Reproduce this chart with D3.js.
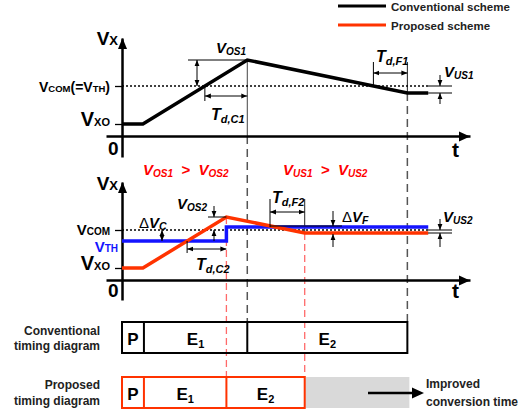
<!DOCTYPE html>
<html><head><meta charset="utf-8">
<script src="https://cdn.jsdelivr.net/npm/d3@7"></script>
<style>
body{margin:0;background:#fff}
svg{display:block}
text{font-family:"Liberation Sans",Arial,sans-serif;font-weight:bold;white-space:pre}
</style>
</head><body>
<svg id="c" width="521" height="416"></svg>
<script>
// ---------- data ----------
const convTime = [0, 0.6, 3.6, 8.2, 8.8];
const convV    = [1.2, 1.2, 7.6, 4.3, 4.3];
const propTime = [0, 0.6, 3.0, 5.25, 8.8];
const propV    = [1.2, 1.2, 6.3, 4.7, 4.7];
const thTime   = [0, 3.0, 3.0, 8.8];
const thV      = [3.9, 3.9, 5.3, 5.3];
const vCom = 5.0, vXo = 1.2, vTh = 3.9;
const convPhases = ["P", "E1", "E2"];
const convBounds = [0, 0.63, 3.6, 8.2];
const propPhases = ["P", "E1", "E2"];
const propBounds = [0, 0.63, 3.0, 5.25];
const legendLabels = ["Conventional scheme", "Proposed scheme"];

// ---------- setup ----------
const svg = d3.select("#c");
const RED = "#ff3300", BLUE = "#1414ff";
const x  = d3.scaleLinear().domain([-0.46, 10]).range([106, 470]);
const yT = d3.scaleLinear().domain([-2.1, 9.8]).range([157, 38]);
const yB = d3.scaleLinear().domain([-2, 9.8]).range([300, 182]);

const defs = svg.append("defs");
defs.append("marker").attr("id","ah").attr("viewBox","0 0 10 10")
  .attr("refX",10).attr("refY",5).attr("markerWidth",6).attr("markerHeight",6)
  .attr("markerUnits","userSpaceOnUse").attr("orient","auto-start-reverse")
  .append("path").attr("d","M0,1L10,5L0,9Z").attr("fill","#000");

function line(x1,y1,x2,y2,o={}){
  const l = svg.append("line").attr("x1",x1).attr("y1",y1).attr("x2",x2).attr("y2",y2)
    .attr("stroke",o.stroke||"#000").attr("stroke-width",o.w||1);
  if(o.dash) l.attr("stroke-dasharray",o.dash);
  if(o.end) l.attr("marker-end","url(#ah)");
  if(o.start) l.attr("marker-start","url(#ah)");
  return l;
}
function rt(xx,yy,parts,o={}){
  const t = svg.append("text").attr("x",xx).attr("y",yy)
    .attr("text-anchor",o.anchor||"start").attr("fill",o.fill||"#000");
  if(o.italic) t.attr("font-style","italic");
  let shift = 0;
  parts.forEach(p=>{
    const [s,size,dy=0,extra] = p;
    const ts = t.append("tspan").text(s).attr("font-size",size);
    const d = dy - shift; if(d) ts.attr("dy",d); shift = dy;
    if(extra) for(const k in extra) ts.attr(k,extra[k]);
  });
  return t;
}
const pts = (ts,vs)=>ts.map((t,i)=>[t,vs[i]]);

// ---------- dashed guide lines ----------
line(x(convTime[2]), yT(convV[2]), x(convTime[2]), yT(0), {stroke:"#444", w:1});
line(x(convTime[2]), yT(0), x(convTime[2]), 322, {stroke:"#555", w:1.5, dash:"8,5"});
line(x(convTime[3]), yT(convV[3]), x(convTime[3]), 322, {stroke:"#555", w:1.5, dash:"8,5"});
line(x(convTime[3]), 62, x(convTime[3]), yT(convV[3]), {stroke:"#222", w:1});
line(x(propTime[2]), yB(propV[2]), x(propTime[2]), 377, {stroke:"#ff6a6a", w:1.3, dash:"7,4"});
line(x(propTime[3]), yB(propV[3]), x(propTime[3]), 377, {stroke:"#ff6a6a", w:1.3, dash:"7,4"});
line(x(propTime[3]), 199, x(propTime[3]), yB(propV[3]), {stroke:"#222", w:1});

// dotted VCOM lines
line(x(0), yT(vCom), x(8.8), yT(vCom), {w:1.3, dash:"2,2"});
line(x(0), yB(vCom), x(8.8), yB(vCom), {w:1.3, dash:"2,2"});

// ---------- axes ----------
function axes(y, ticks){
  const gx = svg.append("g").attr("transform",`translate(0,${y(0)})`)
    .call(d3.axisBottom(x).tickValues([]).tickSizeOuter(0));
  gx.select(".domain").attr("stroke-width",2.5);
  const gy = svg.append("g").attr("transform",`translate(${x(0)},0)`)
    .call(d3.axisLeft(y).tickValues(ticks).tickSize(7).tickFormat("").tickSizeOuter(0));
  gy.select(".domain").attr("stroke-width",2.5);
  gy.selectAll(".tick line").attr("stroke-width",1.3);
  const xe = x(10), ye = y(0)+0.5;
  svg.append("path").attr("d",`M${xe},${ye}L${xe-11},${ye-5}L${xe-11},${ye+5}Z`);
  const yt = y(9.8), xa = x(0)+0.5;
  svg.append("path").attr("d",`M${xa},${yt}L${xa-4.5},${yt+11}L${xa+4.5},${yt+11}Z`);
}
axes(yT, [vCom, vXo]);
axes(yB, [vCom, vXo]);

// ---------- series ----------
const lT = d3.line().x(d=>x(d[0])).y(d=>yT(d[1]));
const lB = d3.line().x(d=>x(d[0])).y(d=>yB(d[1]));
svg.append("path").attr("d",lT(pts(convTime,convV))).attr("fill","none")
  .attr("stroke","#000").attr("stroke-width",3.5);
svg.append("path").attr("d",lB(pts(thTime,thV))).attr("fill","none")
  .attr("stroke",BLUE).attr("stroke-width",3.5);
svg.append("path").attr("d",lB(pts(propTime,propV))).attr("fill","none")
  .attr("stroke",RED).attr("stroke-width",3.5);

// ---------- annotations top ----------
const pk = [x(convTime[2]), yT(convV[2])];
line(188, pk[1], pk[0], pk[1], {w:1});
line(197, pk[1], 197, yT(vCom), {w:1, start:true, end:true});
const tC1 = convTime[1] + (convTime[2]-convTime[1])*(vCom-convV[1])/(convV[2]-convV[1]);
line(x(tC1), yT(vCom), x(tC1), 101, {w:1});
line(x(tC1), 96, pk[0], 96, {w:1, start:true, end:true});
const tF1 = convTime[2] + (convTime[3]-convTime[2])*(convV[2]-vCom)/(convV[2]-convV[3]);
line(x(tF1), 62, x(tF1), yT(vCom), {w:1});
line(x(tF1), 73, x(convTime[3]), 73, {w:1, start:true, end:true});
line(428, yT(vCom), 452, yT(vCom), {stroke:"#555", w:1.5});
line(428, yT(convV[3]), 452, yT(convV[3]), {stroke:"#555", w:1.5});
line(440, 75, 440, yT(vCom), {w:1, end:true});
line(440, 104, 440, yT(convV[3]), {w:1, end:true});

// ---------- annotations bottom ----------
const pk2 = [x(propTime[2]), yB(propV[2])];
line(208, pk2[1], pk2[0], pk2[1], {w:1});
line(214, 206, 214, pk2[1], {w:1, end:true});
line(214, yB(vTh), 214, yB(vCom), {w:1, end:true});
line(162, yB(vCom), 162, yB(vTh), {w:1, start:true, end:true});
const tC2 = propTime[1] + (propTime[2]-propTime[1])*(vTh-propV[1])/(propV[2]-propV[1]);
line(x(tC2), yB(vTh), x(tC2), 253, {w:1});
line(x(tC2), 249, pk2[0], 249, {w:1, start:true, end:true});
line(270, 199, 270, yB(thV[2]), {w:1});
line(270, 212, x(propTime[3]), 212, {w:1, start:true, end:true});
line(270, yB(thV[2])-1, 342, yB(thV[2])-1, {w:1});
line(333, 211, 333, yB(thV[2])-1, {w:1, end:true});
line(333, 247, 333, yB(propV[3])+1, {w:1, end:true});
line(428, yB(vCom), 452, yB(vCom), {stroke:"#555", w:1.5});
line(428, yB(propV[3]), 452, yB(propV[3]), {stroke:"#555", w:1.5});
line(440, 219, 440, yB(vCom), {w:1, end:true});
line(440, 247, 440, yB(propV[3]), {w:1, end:true});

// ---------- labels ----------
rt(118, 45, [["V",19],["X",13]], {anchor:"end"});
rt(110, 92, [["V",14],["COM",9.5],["(=",14],["V",14],["TH",9.5],[")",14]], {anchor:"end"});
rt(110, 126, [["V",20],["XO",11]], {anchor:"end"});
rt(108, 155, [["0",19]]);
rt(452, 157, [["t",21]]);

rt(118, 190, [["V",19],["X",13]], {anchor:"end"});
rt(110, 235, [["V",15],["COM",10]], {anchor:"end"});
rt(118, 252, [["V",15],["TH",10]], {anchor:"end", fill:BLUE});
rt(110, 270, [["V",20],["XO",11]], {anchor:"end"});
rt(108, 297, [["0",19]]);
rt(452, 298, [["t",21]]);

rt(216, 53, [["V",15],["OS1",10,2]], {italic:true});
rt(211, 120, [["T",16],["d,C1",11,3]], {italic:true});
rt(376, 62, [["T",16],["d,F1",11,3]], {italic:true});
rt(444, 77, [["V",15],["US1",10,2]], {italic:true});
rt(177, 209, [["V",15],["OS2",10,2]], {italic:true});
rt(139, 228, [["Δ",15,0,{"font-weight":"normal","font-style":"normal"}],["V",15],["C",10.5,2]], {italic:true});
rt(196, 270, [["T",16],["d,C2",11,3]], {italic:true});
rt(272, 203, [["T",16],["d,F2",11,3]], {italic:true});
rt(342, 222, [["Δ",15,0,{"font-weight":"normal","font-style":"normal"}],["V",15],["F",10.5,2]], {italic:true});
rt(443, 222, [["V",15],["US2",10,2]], {italic:true});

rt(143, 175, [["V",15],["OS1",10,2],["  >  ",15,0],["V",15],["OS2",10,2]], {italic:true, fill:"#ff0000"});
rt(283, 175, [["V",15],["US1",10,2],["  >  ",15,0],["V",15],["US2",10,2]], {italic:true, fill:"#ff0000"});

// ---------- legend ----------
[["#000",6],[RED,25]].forEach(([c,yy],i)=>{
  line(338, yy, 386, yy, {stroke:c, w:3});
  rt(391, yy+5, [[legendLabels[i],11.5]], {fill:"#222"});
});

// ---------- timing diagrams ----------
function timing(bounds, names, y0, h, stroke){
  svg.append("rect").attr("x",x(bounds[0])).attr("y",y0)
    .attr("width",x(bounds[bounds.length-1])-x(bounds[0])).attr("height",h)
    .attr("fill","none").attr("stroke",stroke).attr("stroke-width",2);
  bounds.slice(1,-1).forEach(b=>line(x(b), y0, x(b), y0+h, {stroke, w:2}));
  names.forEach((n,i)=>{
    const cx = (x(bounds[i])+x(bounds[i+1]))/2;
    const parts = n.length>1 ? [[n[0],17],[n.slice(1),11,3]] : [[n,17]];
    rt(cx, y0+h-8, parts, {anchor:"middle"});
  });
}
svg.append("rect").attr("x",x(propBounds[3])).attr("y",377)
  .attr("width",x(convBounds[3])-x(propBounds[3])+2).attr("height",31).attr("fill","#d9d9d9");
timing(convBounds, convPhases, 322, 31, "#000");
timing(propBounds, propPhases, 377, 31, RED);

rt(100, 335, [["Conventional",12]], {anchor:"end", fill:"#222"});
rt(100, 350, [["timing diagram",12]], {anchor:"end", fill:"#222"});
rt(100, 389, [["Proposed",12]], {anchor:"end", fill:"#222"});
rt(100, 405, [["timing diagram",12]], {anchor:"end", fill:"#222"});

line(368, 393, 414, 393, {w:2.5});
svg.append("path").attr("d","M424,393L412,387.5L412,398.5Z");
rt(426, 388, [["Improved",12]], {fill:"#222"});
rt(426, 406, [["conversion time",12]], {fill:"#222"});
</script>
</body></html>
